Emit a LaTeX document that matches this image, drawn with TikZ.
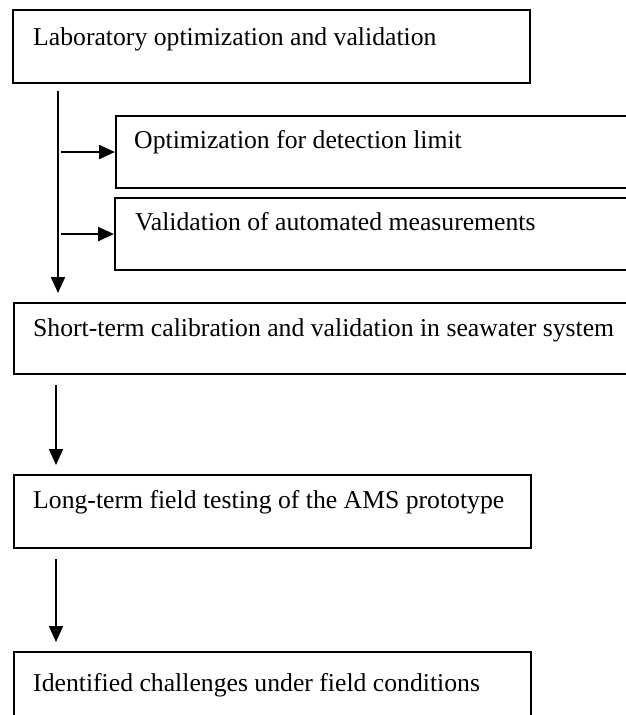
\documentclass[tikz,border=0pt]{standalone}
\usepackage{fontspec}
\setmainfont{Liberation Serif}
\usetikzlibrary{arrows.meta,calc}
\begin{document}
\begin{tikzpicture}[x=1pt,y=-1pt,
  box/.style={draw, line width=2.1pt, rectangle, inner sep=0pt, anchor=north west},
  lbl/.style={anchor=base west, inner sep=0pt, font=\fontsize{25.7}{30}\selectfont},
  arr/.style={line width=2.1pt, -{Triangle[length=16pt,width=14pt]}}]
\useasboundingbox (0,0) rectangle (626,715);
\fill[white] (0,0) rectangle (626,715);
\clip (0,0) rectangle (626,715);
% boxes
\node[box, minimum width=517pt, minimum height=73pt] (b1) at (12,9) {};
\node[box, minimum width=530pt, minimum height=72pt] (b2) at (115,115) {};
\node[box, minimum width=530pt, minimum height=72pt] (b3) at (114,197) {};
\node[box, minimum width=630pt, minimum height=71pt] (b4) at (13,302) {};
\node[box, minimum width=517pt, minimum height=73pt] (b5) at (13,474) {};
\node[box, minimum width=517pt, minimum height=100pt] (b6) at (13,651) {};
% texts
\node[lbl] (t1) at ($(b1.north west)+(21,36)$) {Laboratory optimization and validation};
\node[lbl] (t2) at ($(b2.north west)+(19,33)$) {Optimization for detection limit};
\node[lbl] (t3) at ($(b3.north west)+(21,33)$) {Validation of automated measurements};
\node[lbl] (t4) at ($(b4.north west)+(20,34)$) {Short-term calibration and validation in seawater system};
\node[lbl] (t5) at ($(b5.north west)+(20,34)$) {Long-term field testing of the AMS prototype};
\node[lbl] (t6) at ($(b6.north west)+(20,40)$) {Identified challenges under field conditions};
% connectors
\coordinate (s1) at ($(b1.south west)+(46,7)$);
\draw[arr, shorten >=9pt] (s1) -- (s1 |- b4.north);
\draw[arr] ($(s1 |- b2.west)+(3,0)$) -- (b2.west);
\draw[arr] ($(s1 |- b3.west)+(3,0)$) -- (b3.west);
\coordinate (s2) at ($(b4.south west)+(43,10)$);
\draw[arr, shorten >=9pt] (s2) -- (s2 |- b5.north);
\coordinate (s3) at ($(b5.south west)+(43,10)$);
\draw[arr, shorten >=9pt] (s3) -- (s3 |- b6.north);
\end{tikzpicture}
\end{document}
